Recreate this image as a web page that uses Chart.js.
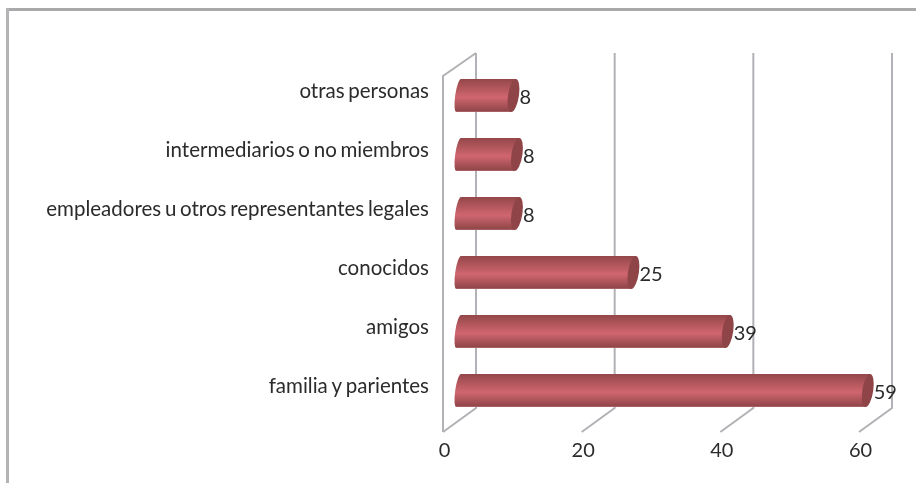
<!DOCTYPE html>
<html><head><meta charset="utf-8">
<style>html,body{margin:0;padding:0;background:#fff}#w{width:916px;height:483px;position:relative}</style>
<script src="https://cdn.jsdelivr.net/npm/chart.js@4"></script>
</head><body><div id="w"><canvas id="c" width="916" height="483"></canvas></div>
<script>
const categories = ["otras personas","intermediarios o no miembros","empleadores u otros representantes legales","conocidos","amigos","familia y parientes"];
const seriesValues = [7.9,8.4,8.4,25.2,38.8,59];
const valueTicks = [0,20,40,60];
const FONT = "Lato";
const TEXT = "#2b2b2b";
const depth = 33, barShift = 15.7, skew = 0.14;

const scene = {
  id:"scene",
  beforeDraw(chart){
    const c = chart.ctx;
    c.wordSpacing="-1.5px";
    c.save();
    c.fillStyle="#fff"; c.fillRect(0,0,916,483);
    c.fillStyle="#a9a9ac";
    c.fillRect(6,8,910,3);
    c.fillStyle="#b4b4b7";
    c.fillRect(6,8,3,475);
    c.restore();
  },
  beforeDatasetsDraw(chart){
    const c = chart.ctx, a = chart.chartArea, x = chart.scales.x;
    const backTop=a.top-13, backBot=a.bottom-12, frontTop=a.top+10, frontBot=a.bottom+12;
    c.save();
    c.strokeStyle="#b2b2b6"; c.lineWidth=2;
    valueTicks.forEach(v=>{
      const f=x.getPixelForValue(v), b=f+depth;
      c.beginPath();
      c.moveTo(b,backTop); c.lineTo(b,backBot); c.lineTo(f,frontBot);
      if(v===0){ c.moveTo(b,backTop); c.lineTo(f,frontTop); c.lineTo(f,frontBot); }
      c.stroke();
    });
    c.restore();
  },
  beforeDatasetDraw(chart,args){
    const c = chart.ctx, els = args.meta.data;
    els.forEach((el,i)=>{
      const h=el.height, xb=el.base+barShift, L=el.x-el.base, yc=el.y;
      c.save();
      c.transform(1,0,-skew,1,xb,yc);
      const g=c.createLinearGradient(0,-h/2,0,h/2);
      g.addColorStop(0,"#934749");
      g.addColorStop(0.55,"#d0666f");
      g.addColorStop(0.97,"#914649");
      g.addColorStop(1,"#bb7c80");
      c.fillStyle=g;
      c.beginPath();
      c.moveTo(0,-h/2); c.lineTo(L,-h/2); c.lineTo(L,h/2); c.lineTo(0,h/2);
      c.ellipse(0,0,3.5,h/2,0,Math.PI/2,Math.PI*1.5);
      c.closePath(); c.fill();
      c.fillStyle="#8f4448";
      c.beginPath(); c.ellipse(L,0,5.5,h/2,0,0,Math.PI*2); c.fill();
      c.restore();
      c.save();
      c.fillStyle=TEXT; c.font="20px "+FONT; c.textAlign="left"; c.textBaseline="middle";
      c.fillText(String(Math.round(seriesValues[i])), xb+L+6, yc+2);
      c.restore();
    });
    return false;
  }
};

new Chart(document.getElementById("c"),{
  type:"bar",
  data:{labels:categories,datasets:[{data:seriesValues,backgroundColor:"#c0595f",barPercentage:33/59,categoryPercentage:1}]},
  options:{
    indexAxis:"y",responsive:false,animation:false,
    layout:{padding:{left:0,right:57,top:66,bottom:0}},
    plugins:{legend:{display:false},tooltip:{enabled:false},title:{display:false}},
    scales:{
      x:{min:0,max:60,afterBuildTicks(s){s.ticks=valueTicks.map(v=>({value:v}));},
         grid:{display:false},border:{display:false},
         ticks:{color:TEXT,font:{family:FONT,size:20},padding:11,labelOffset:1.5,maxRotation:0},
         afterFit(s){s.height=63;}},
      y:{grid:{display:false},border:{display:false},
         ticks:{color:TEXT,font:{family:FONT,size:20.5},padding:6,labelOffset:-4,autoSkip:false},
         afterFit(s){s.width=443;}}
    }
  },
  plugins:[scene]
});
</script></body></html>
